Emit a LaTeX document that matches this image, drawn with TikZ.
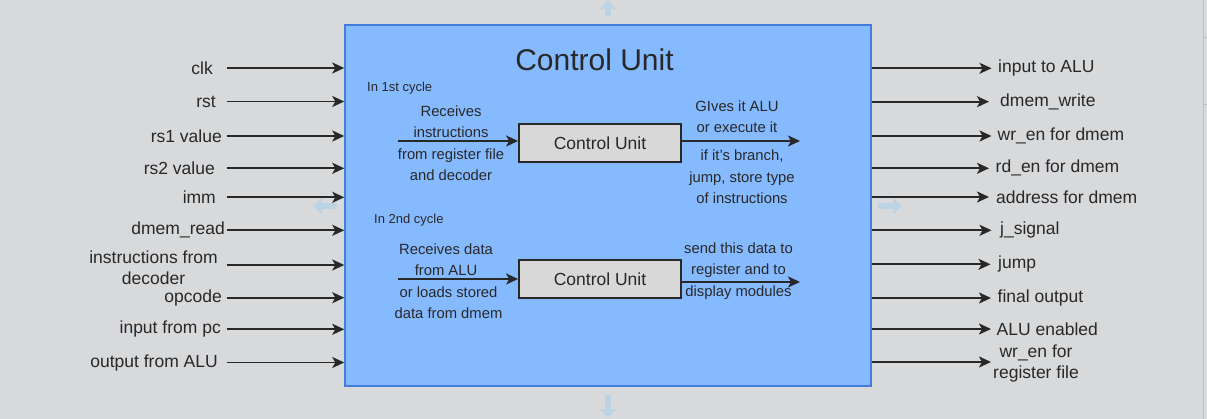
\documentclass[tikz,border=0pt]{standalone}
\usepackage{fontspec}
\setmainfont{Liberation Sans}
\usetikzlibrary{arrows.meta,calc}
\definecolor{bg}{HTML}{D8D9DB}
\definecolor{cufill}{HTML}{86BAFF}
\definecolor{cuborder}{HTML}{3F7FDB}
\definecolor{ink}{HTML}{282828}
\definecolor{boxfill}{HTML}{D8D8D8}
\definecolor{ghost}{HTML}{BCD3E3}
\definecolor{rule}{HTML}{BDBEC0}
\tikzset{
  x=1pt,y=-1pt,
  arr/.style={draw=ink,line width=1.8pt,-{Stealth[length=12pt,width=11pt,inset=3pt]}},
  lab/.style={inner sep=0pt,text=ink,font=\fontsize{17.5}{21}\selectfont},
  inner/.style={inner sep=0pt,text=ink,align=center,font=\fontsize{14.8}{21.3}\selectfont},
  small/.style={inner sep=0pt,text=ink,anchor=west,font=\fontsize{13}{15}\selectfont},
  cubox/.style={draw=ink,line width=1.8pt,fill=boxfill,minimum width=162pt,minimum height=38pt,inner sep=0pt,text=ink,font=\fontsize{17.5}{21}\selectfont},
  ghostarr/.style={draw=ghost,line width=6pt,-{Triangle[length=9pt,width=16pt]}}
}
\begin{document}
\begin{tikzpicture}
\fill[bg] (0,0) rectangle (1207,419);
\useasboundingbox (0,0) rectangle (1207,419);
% right rule
\draw[rule,line width=1pt] (1203,0) -- (1203,419);
\draw[rule,line width=1pt] (1203,38) -- (1207,38);
\draw[rule,line width=1pt] (1203,105) -- (1207,105);

% ghost hover arrows
\coordinate (gt1) at (608,16); \coordinate (gt2) at (608,0);
\coordinate (gb1) at (608,395); \coordinate (gb2) at (608,418);
\coordinate (gl1) at (337,206); \coordinate (gl2) at (313,206);
\coordinate (gr1) at (878,206); \coordinate (gr2) at (902,206);
\draw[ghostarr] (gt1) -- (gt2);
\draw[ghostarr] (gb1) -- (gb2);
\draw[ghostarr] (gl1) -- (gl2);
\draw[ghostarr] (gr1) -- (gr2);

% main control unit
\node[draw=cuborder,line width=1.5pt,fill=cufill,minimum width=526pt,minimum height=361pt,inner sep=0pt] (cu) at (608,205.5) {};
\node[inner sep=0pt,text=ink,font=\fontsize{30}{36}\selectfont] (title) at (594.5,60) {Control Unit};

\node[small] (c1) at (367,88) {In 1st cycle};
\node[small] (c2) at (374,220) {In 2nd cycle};

\node[cubox] (b1) at (600,143) {Control Unit};
\node[cubox] (b2) at (600,279) {Control Unit};

\coordinate (b1in) at (398,141);
\coordinate (b1out) at (800,141);
\coordinate (b2in) at (398,279);
\coordinate (b2out) at (800,282);
\draw[arr] (b1in) -- (b1in -| b1.west);
\draw[arr] (b1out -| b1.east) -- (b1out);
\draw[arr] (b2in) -- (b2in -| b2.west);
\draw[arr] (b2out -| b2.east) -- (b2out);

\node[inner] (t1a) at (451,121.5) {Receives\\instructions};
\node[inner] (t1b) at (451,164.5) {from register file\\and decoder};
\node[inner] (t1c) at (737,116.5) {GIves it ALU\\or execute it};
\node[inner] (t1d) at (742,177) {if it's branch,\\jump, store type\\of instructions};
\node[inner] (t2a) at (446,260) {Receives data\\from ALU};
\node[inner] (t2b) at (448.5,302.5) {or loads stored\\data from dmem};
\node[inner] (t2c) at (738.5,271) {send this data to\\register and to\\display modules};

% left inputs
\foreach \n/\y/\ex/\t in {
  clk/68/213/clk,
  rst/101.5/216/rst,
  rsa/136/222/rs1 value,
  rsb/168.3/215/rs2 value,
  imm/197.3/216/imm,
  dmr/230.3/225/dmem\_read,
  opc/297.7/222/opcode,
  ipc/329.3/221/input from pc,
  oalu/362.5/218/output from ALU}{
  \node[lab,anchor=east] (l\n) at (\ex,\y) {\t};
  \coordinate (s\n) at (226.5,\y);
  \draw[arr] (s\n) -- (s\n -| cu.west);
}
\node[lab,align=center] (linstr) at (153.5,267.5) {instructions from\\decoder};
\coordinate (sinstr) at (226.5,265);
\draw[arr] (sinstr) -- (sinstr -| cu.west);

% right outputs
\foreach \n/\y/\tx/\sx/\t in {
  ialu/68.3/991.5/998/input to ALU,
  dmw/101.7/989/1000/dmem\_write,
  wrd/136/991.5/997.5/wr\_en for dmem,
  rdd/168.3/989/995.5/rd\_en for dmem,
  adr/197/989/996/address for dmem,
  jsg/230.3/991.5/1000/j\_signal,
  jmp/264.3/990.5/998/jump,
  fin/298/991/997.5/final output,
  alue/329/991/996.5/ALU enabled}{
  \coordinate (e\n) at (\tx,\y);
  \draw[arr] (e\n -| cu.east) -- (e\n);
  \node[lab,anchor=west] (r\n) at (\sx,\y) {\t};
}
\coordinate (ewrr) at (991,362);
\draw[arr] (ewrr -| cu.east) -- (ewrr);
\node[lab,align=center] (rwrr) at (1036,363.5) {wr\_en for\\register file};
\end{tikzpicture}
\end{document}
